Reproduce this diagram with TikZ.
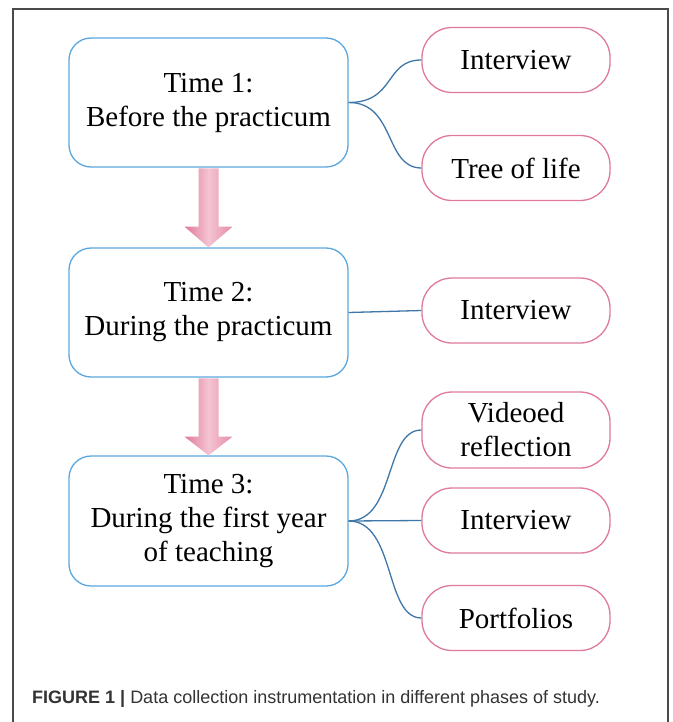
\documentclass[tikz,border=0pt]{standalone}
\usepackage{fontspec}
\setmainfont{Liberation Serif}
\newfontfamily\capfont{Liberation Sans}
\usetikzlibrary{calc}
\definecolor{boxblue}{HTML}{5BA8DF}
\definecolor{pillpink}{HTML}{E07A9A}
\definecolor{linkblue}{HTML}{3F78A8}
\definecolor{arrowdark}{HTML}{E07896}
\definecolor{arrowlight}{HTML}{F4C4D2}
\definecolor{framegray}{HTML}{4A4A4A}
\definecolor{captiongray}{HTML}{333333}
\begin{document}
\begin{tikzpicture}[x=1pt,y=-1pt,
 phase/.style={draw=boxblue, line width=1.3pt, rounded corners=22pt, minimum width=279pt, minimum height=129pt, align=center, font=\fontsize{29}{34}\selectfont, inner sep=0pt},
 pill/.style={draw=pillpink, line width=1.3pt, rounded corners=30pt, minimum width=188pt, minimum height=65pt, align=center, font=\fontsize{29}{34}\selectfont, inner sep=0pt},
 link/.style={draw=linkblue, line width=1.3pt},
 flow/.style={left color=arrowdark, right color=arrowdark!85!white, middle color=arrowlight}]
\useasboundingbox (0,0) rectangle (672,722);
\fill[white] (0,0) rectangle (672,722);
\draw[framegray, line width=1.3pt] (13,722) -- (13,9) -- (668,9) -- (668,722);

\node[phase] (b1) at (208.5,102.5) {Time 1:\\Before the practicum};
\node[phase] (b2) at (208.5,312.5) {Time 2:\\During the practicum};
\node[phase, minimum height=130pt] (b3) at (208.5,521) {Time 3:\\During the first year\\of teaching};

\node[pill] (i1) at (516,60) {Interview};
\node[pill] (tree) at (516,168) {Tree of life};
\node[pill] (i2) at (516,310.5) {Interview};
\node[pill, minimum height=76pt] (vid) at (516,430) {Videoed\\reflection};
\node[pill] (i3) at (516,520.5) {Interview};
\node[pill] (port) at (516,618) {Portfolios};

\draw[link] (b1.east) .. controls +(47,0) and +(-37,0) .. (i1.west);
\draw[link] (b1.east) .. controls +(47,0) and +(-37,0) .. (tree.west);
\draw[link] (b2.east) -- (i2.west);
\draw[link] (b3.east) .. controls +(47,0) and +(-37,0) .. (vid.west);
\draw[link] (b3.east) -- (i3.west);
\draw[link] (b3.east) .. controls +(47,0) and +(-37,0) .. (port.west);

\shade[flow] ($(b1.south)+(-10,0.7)$) -- ($(b1.south)+(-10,59)$) -- ($(b1.south)+(-24,59)$) -- (b2.north) -- ($(b1.south)+(24,59)$) -- ($(b1.south)+(10,59)$) -- ($(b1.south)+(10,0.7)$) -- cycle;
\shade[flow] ($(b2.south)+(-10,0.7)$) -- ($(b2.south)+(-10,59)$) -- ($(b2.south)+(-24,59)$) -- (b3.north) -- ($(b2.south)+(24,59)$) -- ($(b2.south)+(10,59)$) -- ($(b2.south)+(10,0.7)$) -- cycle;

\node[anchor=base west, font=\capfont\fontsize{18}{22}\selectfont, text=captiongray, inner sep=0pt] (cap) at (32,703) {\textbf{FIGURE 1 |} Data collection instrumentation in different phases of study.};
\end{tikzpicture}
\end{document}
